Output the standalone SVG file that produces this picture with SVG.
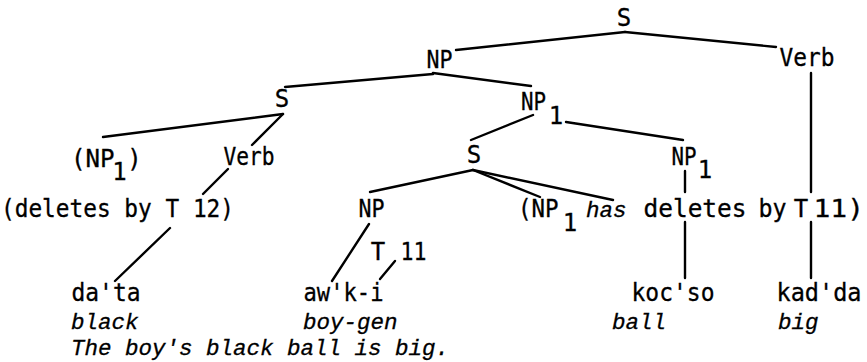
<svg xmlns="http://www.w3.org/2000/svg" width="867" height="362" viewBox="0 0 867 362">
<style>
.t{font-family:"DejaVu Sans Mono","Liberation Mono",monospace;font-size:24px;fill:#000;stroke:#000;stroke-width:0.3}
.m{text-anchor:middle}
.i{font-family:"Liberation Mono","DejaVu Sans Mono",monospace;font-style:italic;font-size:22.5px;fill:#000;stroke:#000;stroke-width:0.3}
.c line{stroke:#000;stroke-width:2.4;stroke-linecap:round}
</style>
<rect width="867" height="362" fill="#fff"/>
<g id="connectors" class="c">
<line x1="625" y1="32" x2="456" y2="50"/>
<line x1="625" y1="32" x2="776" y2="47"/>
<line x1="433" y1="74" x2="285" y2="87"/>
<line x1="433" y1="73" x2="531" y2="86"/>
<line x1="283" y1="114" x2="103" y2="137"/>
<line x1="283" y1="114" x2="252" y2="145"/>
<line x1="228" y1="169" x2="203" y2="194"/>
<line x1="170" y1="228" x2="115" y2="281"/>
<line x1="533" y1="115" x2="471" y2="140"/>
<line x1="566" y1="122" x2="683" y2="140"/>
<line x1="473" y1="170" x2="370" y2="192"/>
<line x1="473" y1="170" x2="540" y2="197"/>
<line x1="473" y1="170" x2="613" y2="200"/>
<line x1="369" y1="224" x2="332" y2="281"/>
<line x1="380" y1="279" x2="395" y2="261"/>
<line x1="685" y1="171" x2="685" y2="192"/>
<line x1="685" y1="222" x2="685" y2="278"/>
<line x1="811" y1="73" x2="811" y2="192"/>
<line x1="811" y1="222" x2="811" y2="278"/>
</g>
<g id="s-root"><text class="t m" x="624" y="26">S</text></g>
<g id="np-top"><text class="t" x="426.5" y="68" textLength="26" lengthAdjust="spacingAndGlyphs">NP</text></g>
<g id="verb-top"><text class="t" x="779.5" y="66" textLength="55" lengthAdjust="spacingAndGlyphs">Verb</text></g>
<g id="s-left"><text class="t m" x="282" y="107">S</text></g>
<g id="np1-left"><text class="t" x="71" y="167" textLength="43.5" lengthAdjust="spacingAndGlyphs">(NP</text><text class="t m" x="119.5" y="180">1</text><text class="t m" x="134.5" y="167">)</text></g>
<g id="verb-left"><text class="t" x="223.5" y="165" textLength="51" lengthAdjust="spacingAndGlyphs">Verb</text></g>
<g id="deletes-t12"><text class="t" x="1" y="217" textLength="233" lengthAdjust="spacingAndGlyphs">(deletes by T 12)</text></g>
<g id="np1-mid"><text class="t" x="521" y="110" textLength="25" lengthAdjust="spacingAndGlyphs">NP</text><text class="t m" x="556" y="124">1</text></g>
<g id="s-mid"><text class="t m" x="474" y="163">S</text></g>
<g id="np1-right"><text class="t" x="671.5" y="165" textLength="25" lengthAdjust="spacingAndGlyphs">NP</text><text class="t m" x="705" y="178">1</text></g>
<g id="np-low"><text class="t" x="358.5" y="217" textLength="26" lengthAdjust="spacingAndGlyphs">NP</text></g>
<g id="t11"><text class="t m" x="378" y="260">T</text><text class="t" x="400.5" y="260" textLength="26" lengthAdjust="spacingAndGlyphs">11</text></g>
<g id="np1-has"><text class="t" x="518" y="217" textLength="40.5" lengthAdjust="spacingAndGlyphs">(NP</text><text class="t m" x="570" y="231">1</text><text class="i" x="586" y="217">has</text><text class="t" x="643.5" y="217" textLength="103" lengthAdjust="spacingAndGlyphs">deletes</text><text class="t" x="758.5" y="217" textLength="28" lengthAdjust="spacingAndGlyphs">by</text><text class="t m" x="801" y="217">T</text><text class="t" x="813.5" y="217" textLength="50.5" lengthAdjust="spacingAndGlyphs">11)</text></g>
<g id="datta"><text class="t" x="71.5" y="301" textLength="69" lengthAdjust="spacingAndGlyphs">da'ta</text><text class="i" x="71" y="329">black</text></g>
<g id="awki"><text class="t" x="303.5" y="301" textLength="80" lengthAdjust="spacingAndGlyphs">aw'k-i</text><text class="i" x="303" y="329">boy-gen</text></g>
<g id="kocso"><text class="t" x="631.5" y="301" textLength="83" lengthAdjust="spacingAndGlyphs">koc'so</text><text class="i" x="612" y="329">ball</text></g>
<g id="kadda"><text class="t" x="776.5" y="301" textLength="85" lengthAdjust="spacingAndGlyphs">kad'da</text><text class="i" x="778" y="329">big</text></g>
<g id="gloss"><text class="i" x="71" y="355">The boy's black ball is big.</text></g>
</svg>
